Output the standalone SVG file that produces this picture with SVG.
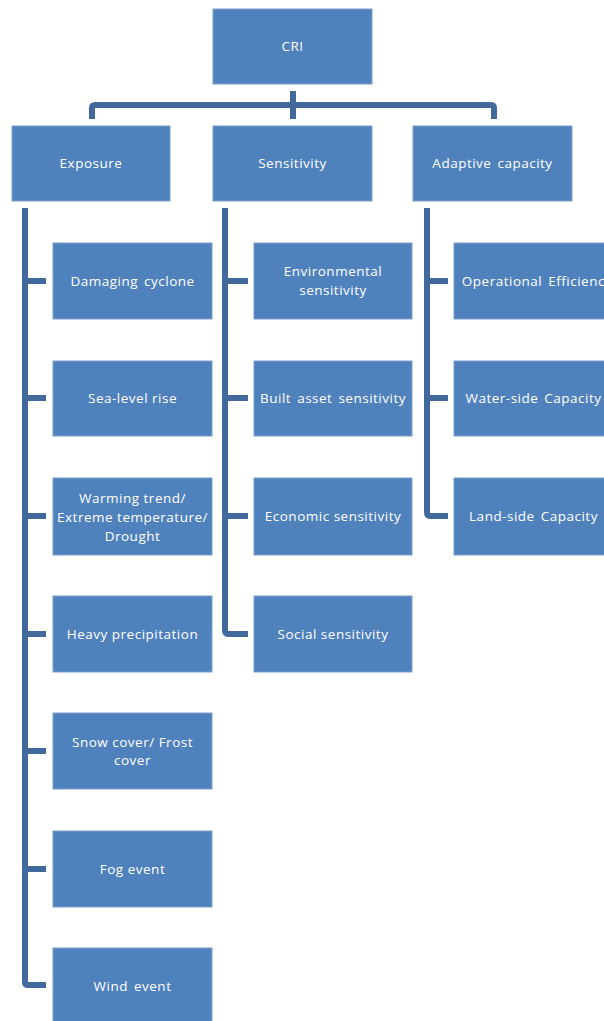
<svg xmlns="http://www.w3.org/2000/svg" width="604" height="1021" viewBox="0 0 604 1021">
<style>
.b{fill:#4F81BD;stroke:#7A9FCF;stroke-width:1}
.t{fill:#fff;font-family:"Open Sans","DejaVu Sans",sans-serif;font-size:13.5px;letter-spacing:0.5px;text-anchor:middle;dominant-baseline:central}
.w{word-spacing:2px}
.c{fill:none;stroke:#42699C;stroke-width:6;stroke-linejoin:round}
</style>
<rect width="604" height="1021" fill="#fff"/>
<g id="connectors">
<path class="c" d="M293 91V119M92 119V108Q92 105 95 105H491Q494 105 494 108V119"/>
<path class="c" d="M25 208V982Q25 985 28 985H46M25 281H46M25 398H46M25 516H46M25 634H46M25 751H46M25 869H46"/>
<path class="c" d="M225 208V630Q225 634 228 634H248M225 281H248M225 398H248M225 516H248"/>
<path class="c" d="M427 208V512Q427 516 430 516H448M427 281H448M427 398H448"/>
</g>
<g id="cri"><rect class="b" x="213" y="9" width="159" height="75"/><text class="t" x="292.5" y="46">CRI</text></g>
<g id="exposure"><rect class="b" x="12" y="126" width="158" height="75"/><text class="t" x="91" y="163">Exposure</text></g>
<g id="sensitivity"><rect class="b" x="213" y="126" width="159" height="75"/><text class="t" x="292.5" y="163">Sensitivity</text></g>
<g id="adaptive"><rect class="b" x="413" y="126" width="159" height="75"/><text class="t w" x="492.5" y="163">Adaptive capacity</text></g>

<g id="e1"><rect class="b" x="53" y="243" width="159" height="76"/><text class="t w" x="132.5" y="281">Damaging cyclone</text></g>
<g id="e2"><rect class="b" x="53" y="361" width="159" height="75"/><text class="t" x="132.5" y="398">Sea-level rise</text></g>
<g id="e3"><rect class="b" x="53" y="478" width="159" height="77"/><text class="t" x="132.5" y="498">Warming trend/</text><text class="t" x="132.5" y="517">Extreme temperature/</text><text class="t" x="132.5" y="536">Drought</text></g>
<g id="e4"><rect class="b" x="53" y="596" width="159" height="76"/><text class="t" x="132.5" y="634">Heavy precipitation</text></g>
<g id="e5"><rect class="b" x="53" y="713" width="159" height="76"/><text class="t" x="132.5" y="742">Snow cover/ Frost</text><text class="t" x="132.5" y="760">cover</text></g>
<g id="e6"><rect class="b" x="53" y="831" width="159" height="76"/><text class="t" x="132.5" y="869">Fog event</text></g>
<g id="e7"><rect class="b" x="53" y="948" width="159" height="77"/><text class="t w" x="132.5" y="986">Wind event</text></g>

<g id="s1"><rect class="b" x="254" y="243" width="158" height="76"/><text class="t" x="333" y="271">Environmental</text><text class="t" x="333" y="290">sensitivity</text></g>
<g id="s2"><rect class="b" x="254" y="361" width="158" height="75"/><text class="t w" x="333" y="398">Built asset sensitivity</text></g>
<g id="s3"><rect class="b" x="254" y="478" width="158" height="77"/><text class="t" x="333" y="516">Economic sensitivity</text></g>
<g id="s4"><rect class="b" x="254" y="596" width="158" height="76"/><text class="t" x="333" y="634">Social sensitivity</text></g>

<g id="a1"><rect class="b" x="454" y="243" width="159" height="76"/><text class="t w" x="537" y="281">Operational Efficiency</text></g>
<g id="a2"><rect class="b" x="454" y="361" width="159" height="75"/><text class="t w" x="533.5" y="398">Water-side Capacity</text></g>
<g id="a3"><rect class="b" x="454" y="478" width="159" height="77"/><text class="t w" x="533.5" y="516">Land-side Capacity</text></g>
</svg>
